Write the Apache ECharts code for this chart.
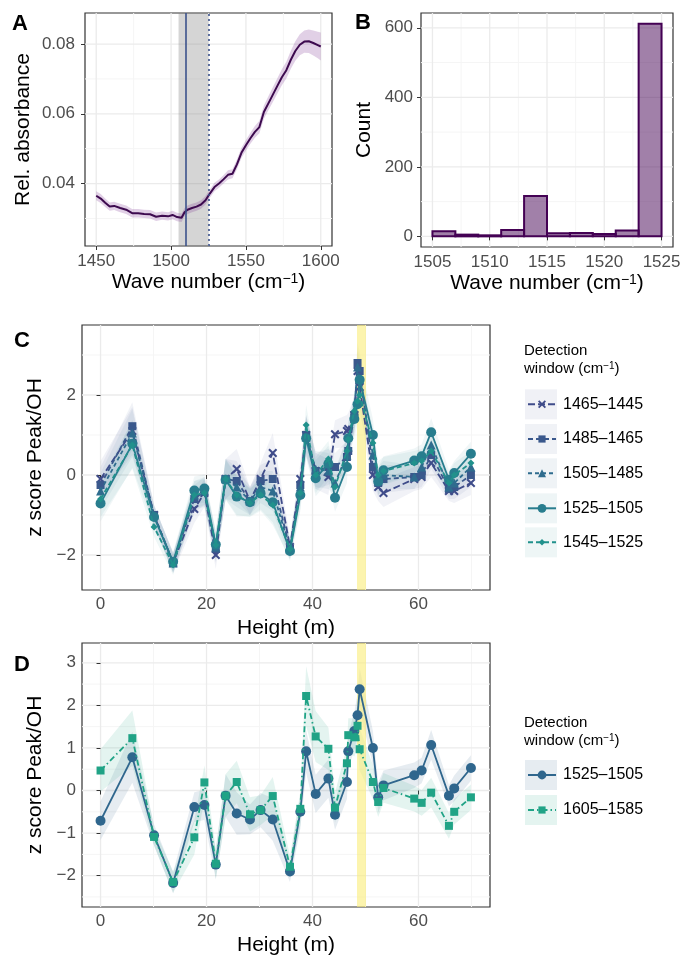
<!DOCTYPE html>
<html><head><meta charset="utf-8">
<script src="https://cdn.jsdelivr.net/npm/echarts@6/dist/echarts.min.js"></script>
<style>html,body{margin:0;padding:0;background:#fff}#c{width:684px;height:957px}</style>
</head><body><div id="c"></div>
<script>
const FONT = '"Liberation Sans", Arial, Helvetica, sans-serif';

// ---------- Panel A: spectrum ----------
const waveA = [1450,1453,1456,1459,1462,1466,1470,1474,1478,1482,1486,1490,1494,1498,1501,1504,1507,1509,1511,1514,1517,1520,1523,1526,1529,1532,1535,1538,1541,1544,1547,1550,1553,1556,1559,1562,1565,1568,1571,1574,1577,1580,1583,1586,1589,1592,1595,1598,1600];
const absA  = [0.0365,0.0357,0.0345,0.0334,0.0336,0.0330,0.0325,0.0315,0.0315,0.0313,0.0312,0.0305,0.0308,0.0306,0.0310,0.0304,0.0302,0.0318,0.0325,0.0330,0.0334,0.0340,0.0352,0.0372,0.0390,0.0400,0.0412,0.0425,0.0428,0.0455,0.0488,0.0510,0.0530,0.0548,0.0562,0.0605,0.0630,0.0655,0.0680,0.0705,0.0725,0.0755,0.0780,0.0798,0.0807,0.0808,0.0803,0.0797,0.0793];
const ribbonA = [0.0013,0.0013,0.0012,0.0012,0.0012,0.0012,0.0012,0.0012,0.0012,0.0012,0.0012,0.0012,0.0012,0.0012,0.0012,0.0012,0.0012,0.0012,0.0012,0.0012,0.0012,0.0012,0.0012,0.0012,0.0012,0.0012,0.0012,0.0013,0.0013,0.0014,0.0015,0.0015,0.0016,0.0017,0.0018,0.0019,0.0020,0.0021,0.0022,0.0023,0.0024,0.0026,0.0028,0.0030,0.0032,0.0034,0.0036,0.0038,0.0040];
const windowA = [1505, 1525];
const peakLineA = 1510;
const edgeLineA = 1525;
const ticksAx = [1450, 1500, 1550, 1600];
const ticksAy = [0.04, 0.06, 0.08];
const minorAx = [1475, 1525, 1575];
const minorAy = [0.03, 0.05, 0.07];

// ---------- Panel B: histogram ----------
const binEdgesB = [1505,1507,1509,1511,1513,1515,1517,1519,1521,1523,1525];
const countsB = [15, 5, 3, 18, 116, 9, 10, 7, 17, 612];
const ticksBx = [1505, 1510, 1515, 1520, 1525];
const ticksBy = [0, 200, 400, 600];
const minorBx = [1507.5, 1512.5, 1517.5, 1522.5];
const minorBy = [100, 300, 500];

// ---------- Panels C and D: z scores vs height ----------
const heights = [0,6,10.1,13.7,17.7,19.6,21.75,23.6,25.7,28.2,30.2,32.5,35.75,37.7,38.8,40.6,43,44.25,46.5,46.75,47.9,48.5,48.9,51.4,52.4,53.4,59.2,60.6,62.4,65.75,66.75,69.9];
const z1465 = [-0.1,1.1,-1.0,-2.2,-0.85,-0.45,-2.0,-0.1,0.15,-0.65,-0.1,0.55,-1.8,-0.1,1.0,0.1,-0.05,1.02,1.1,1.15,1.5,2.6,2.2,0.0,-0.3,-0.45,-0.1,-0.05,0.3,-0.4,-0.4,-0.2];
const z1485 = [-0.25,1.22,-1.0,-2.2,-0.6,-0.4,-1.85,-0.1,-0.15,-0.65,-0.15,-0.1,-1.85,-0.25,1.0,0.1,0.2,0.2,0.45,0.6,1.5,2.8,2.6,0.2,-0.2,-0.1,-0.05,0.0,0.5,-0.35,-0.3,0.0];
const z1505 = [-0.4,1.05,-1.0,-2.2,-0.5,-0.4,-1.8,-0.1,-0.3,-0.65,-0.3,-0.4,-1.85,-0.3,0.95,0.15,0.1,-0.2,0.5,0.7,1.6,2.7,2.4,0.5,-0.15,0.0,-0.05,0.2,0.75,-0.3,-0.2,0.2];
const z1525 = [-0.71,0.78,-1.05,-2.17,-0.39,-0.34,-1.74,-0.12,-0.54,-0.68,-0.46,-0.68,-1.9,-0.5,0.92,-0.08,0.28,-0.57,0.2,0.92,1.4,1.77,2.38,1.0,-0.16,0.12,0.36,0.47,1.07,-0.12,0.05,0.53];
const z1545 = [-0.6,0.75,-1.3,-2.25,-0.5,-0.45,-1.75,-0.1,-0.5,-0.7,-0.5,-0.75,-1.85,-0.45,1.25,0.0,0.4,-0.3,0.6,0.9,1.6,1.85,2.0,0.8,0.0,0.1,0.3,0.35,0.6,-0.2,0.0,0.3];
const z1605 = [0.47,1.23,-1.09,-2.15,-1.1,0.19,-1.72,-0.12,0.2,-0.56,-0.46,-0.13,-1.79,-0.43,2.22,1.27,0.98,-0.4,0.64,1.3,1.25,1.52,0.97,0.2,-0.27,0.06,-0.19,-0.29,-0.05,-0.83,-0.5,-0.16];
const ribbonCD = [0.45,0.6,0.25,0.25,0.35,0.35,0.35,0.5,0.5,0.35,0.4,0.5,0.25,0.4,0.5,0.45,0.45,0.35,0.4,0.4,0.45,0.5,0.5,0.4,0.35,0.35,0.3,0.3,0.35,0.25,0.3,0.3];
const ribbon1605 = [0.5,0.65,0.2,0.25,0.4,0.4,0.35,0.5,0.5,0.4,0.35,0.45,0.25,0.4,0.7,0.6,0.5,0.35,0.4,0.4,0.45,0.5,0.5,0.4,0.35,0.35,0.3,0.3,0.35,0.3,0.3,0.3];
const highlightHeight = [48.4, 50.1];
const ticksCDx = [0, 20, 40, 60];
const ticksCy = [-2, 0, 2];
const ticksDy = [-2, -1, 0, 1, 2, 3];
const minorCDx = [10, 30, 50, 70];
const minorCy = [-1, 1, 3];
const minorDy = [-2.5, -1.5, -0.5, 0.5, 1.5, 2.5];

const namesC = ['1465–1445','1485–1465','1505–1485','1525–1505','1545–1525'];
const namesD = ['1525–1505 ','1605–1585'];

// ---------- helpers ----------
function valAxis(gridIndex, min, max, ticks, fs, margin, name, nameGap, fmt) {
  return {
    type: 'value', gridIndex, min, max,
    axisLine: {show: false},
    axisTick: {show: true, length: 4, customValues: ticks, lineStyle: {color: '#333333', width: 1}},
    axisLabel: {color: '#4d4d4d', fontSize: fs, fontFamily: FONT, margin, customValues: ticks,
      formatter: fmt || (v => String(v))},
    splitLine: {show: false},
    name, nameLocation: 'middle', nameGap,
    nameTextStyle: {fontSize: 21, color: '#000', fontFamily: FONT,
      rich: {s: {fontSize: 14, verticalAlign: 'top', color: '#000', fontFamily: FONT}}}
  };
}
function gridLines(ai, xs, ys, xr, yr, stroke, lw, z) {
  const xm = (xr[0] + xr[1]) / 2, ym = (yr[0] + yr[1]) / 2;
  return {
    type: 'custom', xAxisIndex: ai, yAxisIndex: ai, silent: true, z: z,
    data: [[xm, ym]],
    renderItem(params, api) {
      const cs = params.coordSys, ch = [];
      xs.forEach(v => { const x = api.coord([v, ym])[0];
        ch.push({type: 'line', shape: {x1: x, y1: cs.y, x2: x, y2: cs.y + cs.height}, style: {stroke, lineWidth: lw}}); });
      ys.forEach(v => { const y = api.coord([xm, v])[1];
        ch.push({type: 'line', shape: {x1: cs.x, y1: y, x2: cs.x + cs.width, y2: y}, style: {stroke, lineWidth: lw}}); });
      return {type: 'group', children: ch};
    }
  };
}
function ribbon(ai, xs, ys, hw, fill, z) {
  return {
    type: 'custom', xAxisIndex: ai, yAxisIndex: ai, silent: true, z: z || 2,
    data: xs.map((x, i) => [x, ys[i]]),
    renderItem(params, api) {
      if (params.dataIndex !== 0) return null;
      const pts = [];
      for (let i = 0; i < xs.length; i++) pts.push(api.coord([xs[i], ys[i] + hw[i]]));
      for (let i = xs.length - 1; i >= 0; i--) pts.push(api.coord([xs[i], ys[i] - hw[i]]));
      return {type: 'polygon', shape: {points: pts}, style: {fill}};
    }
  };
}
function vband(ai, range, fill, z, yref) {
  return {
    type: 'custom', xAxisIndex: ai, yAxisIndex: ai, silent: true, z,
    data: [[range[0], yref]],
    renderItem(params, api) {
      const cs = params.coordSys;
      const x0 = api.coord([range[0], yref])[0], x1 = api.coord([range[1], yref])[0];
      return {type: 'rect', shape: {x: x0, y: cs.y, width: x1 - x0, height: cs.height}, style: {fill}};
    }
  };
}

const crossPath = 'path://M0,1.6 L1.6,0 L5,3.4 L8.4,0 L10,1.6 L6.6,5 L10,8.4 L8.4,10 L5,6.6 L1.6,10 L0,8.4 L3.4,5 Z';
const colC = ['#3f4c8a', '#3a588c', '#2f6c8e', '#287d8e', '#21918c'];
const symC = [crossPath, 'rect', 'triangle', 'circle', 'diamond'];
const symSizeC = [9, 8, 9, 10, 7];
const dashC = [[7,3], [5,3], [4,3], 'solid', [5,3]];
const dataC = [z1465, z1485, z1505, z1525, z1545];
const colD = ['#2f668d', '#20a386'];
const symD = ['circle', 'rect'];
const symSizeD = [10, 8];
const dashD = ['solid', [6,3,1.5,3]];
const dataD = [z1525, z1605];
const ribD = [ribbonCD, ribbon1605];

function rgba(hex, a) {
  const n = parseInt(hex.slice(1), 16);
  return `rgba(${n >> 16},${(n >> 8) & 255},${n & 255},${a})`;
}
const MAJ = '#ebebeb', MIN = '#f5f5f5';

const series = [];
// A
const xrA = [1442.5, 1607.5], yrA = [0.0221, 0.0889];
series.push(gridLines(0, minorAx, minorAy, xrA, yrA, MIN, 1, 0));
series.push(gridLines(0, ticksAx, ticksAy, xrA, yrA, MAJ, 1.3, 0));
series.push(vband(0, windowA, 'rgba(128,128,128,0.33)', 1, 0.05));
series.push(ribbon(0, waveA, absA, ribbonA, 'rgba(120,40,140,0.22)', 2));
series.push({
  type: 'line', xAxisIndex: 0, yAxisIndex: 0, z: 3, symbol: 'none', silent: true,
  data: waveA.map((x, i) => [x, absA[i]]),
  lineStyle: {color: '#3d0a4f', width: 2},
  markLine: {symbol: 'none', silent: true, label: {show: false}, animation: false,
    data: [
      {xAxis: peakLineA, lineStyle: {color: '#3b528b', width: 1.6, type: 'solid'}},
      {xAxis: edgeLineA, lineStyle: {color: '#3b528b', width: 1.6, type: [2, 3]}}
    ]}
});
// B
const xrB = [1504, 1526], yrB = [-30.6, 642.6];
series.push(gridLines(1, minorBx, minorBy, xrB, yrB, MIN, 1, 0));
series.push(gridLines(1, ticksBx, ticksBy, xrB, yrB, MAJ, 1.3, 0));
series.push({
  type: 'custom', xAxisIndex: 1, yAxisIndex: 1, z: 3, silent: true,
  data: countsB.map((c, i) => [binEdgesB[i], c, binEdgesB[i + 1]]),
  renderItem(params, api) {
    const p0 = api.coord([api.value(0), api.value(1)]);
    const p1 = api.coord([api.value(2), 0]);
    return {type: 'rect', shape: {x: p0[0], y: p0[1], width: p1[0] - p0[0], height: p1[1] - p0[1]},
      style: {fill: 'rgba(68,1,84,0.5)', stroke: '#440154', lineWidth: 2}};
  }
});
// C
const xrCD = [-3.5, 73.5], yrC = [-2.875, 3.75], yrD = [-2.736, 3.465];
series.push(gridLines(2, minorCDx, minorCy, xrCD, yrC, MIN, 1, 0));
series.push(gridLines(2, ticksCDx, ticksCy, xrCD, yrC, MAJ, 1.3, 0));
dataC.forEach((d, k) => series.push(ribbon(2, heights, d, ribbonCD, rgba(colC[k], 0.07), 1)));
series.push(vband(2, highlightHeight, 'rgba(250,236,120,0.6)', 2, 0));
dataC.forEach((d, k) => series.push({
  type: 'line', name: namesC[k], xAxisIndex: 2, yAxisIndex: 2, z: 5 + k,
  data: heights.map((h, i) => [h, d[i]]),
  symbol: symC[k], symbolSize: symSizeC[k], showAllSymbol: true,
  lineStyle: {color: colC[k], width: 1.8, type: dashC[k]},
  itemStyle: {color: colC[k]}
}));
// D
series.push(gridLines(3, minorCDx, minorDy, xrCD, yrD, MIN, 1, 0));
series.push(gridLines(3, ticksCDx, ticksDy, xrCD, yrD, MAJ, 1.3, 0));
dataD.forEach((d, k) => series.push(ribbon(3, heights, d, ribD[k], rgba(colD[k], 0.12), 1)));
series.push(vband(3, highlightHeight, 'rgba(250,236,120,0.6)', 2, 0));
dataD.forEach((d, k) => series.push({
  type: 'line', name: namesD[k], xAxisIndex: 3, yAxisIndex: 3, z: 5 + k,
  data: heights.map((h, i) => [h, d[i]]),
  symbol: symD[k], symbolSize: symSizeD[k], showAllSymbol: true,
  lineStyle: {color: colD[k], width: 1.8, type: dashD[k]},
  itemStyle: {color: colD[k]}
}));

// legends
const legendC_ih = [10, 9, 10, 11, 8];
const legendC_cy = [404.3, 439, 473.3, 508.3, 542.3];
const legendD_ih = [11, 9];
const legendD_cy = [775, 810];
const legends = [];
const keyRects = [];
function addLegend(name, ih, cy) {
  legends.push({
    data: [name], orient: 'vertical', left: 527, top: cy - 10, padding: 0,
    itemWidth: 28, itemHeight: ih, selectedMode: false,
    textStyle: {fontSize: 16, color: '#000', fontFamily: FONT, lineHeight: 20, padding: [0, 0, 0, 2]}
  });
}
namesC.forEach((n, k) => { addLegend(n, legendC_ih[k], legendC_cy[k]);
  keyRects.push({type: 'rect', shape: {x: 525, y: legendC_cy[k] - 15, width: 32, height: 30}, style: {fill: rgba(colC[k], 0.08)}, z: 0}); });
namesD.forEach((n, k) => { addLegend(n, legendD_ih[k], legendD_cy[k]);
  keyRects.push({type: 'rect', shape: {x: 525, y: legendD_cy[k] - 15, width: 32, height: 30}, style: {fill: rgba(colD[k], 0.12)}, z: 0}); });

function txt(x, y, text, font, extra) {
  return Object.assign({type: 'text', style: {x, y, text, font, fill: '#000', textAlign: 'left', textVerticalAlign: 'middle', verticalAlign: 'middle'}}, extra || {});
}
const graphics = keyRects.concat([
  txt(12, 24, 'A', 'bold 22px ' + FONT),
  txt(355, 23, 'B', 'bold 22px ' + FONT),
  txt(14, 341, 'C', 'bold 22px ' + FONT),
  txt(14, 665, 'D', 'bold 22px ' + FONT),
  txt(524, 351, 'Detection', '15px ' + FONT),
  {type: 'text', style: {x: 524, y: 369, text: 'window (cm{s|−1})', font: '15px ' + FONT, fill: '#000', verticalAlign: 'middle', textVerticalAlign: 'middle',
    rich: {s: {fontSize: 10, verticalAlign: 'top', fontFamily: FONT, fill: '#000'}}}},
  txt(524, 723, 'Detection', '15px ' + FONT),
  {type: 'text', style: {x: 524, y: 741, text: 'window (cm{s|−1})', font: '15px ' + FONT, fill: '#000', verticalAlign: 'middle', textVerticalAlign: 'middle',
    rich: {s: {fontSize: 10, verticalAlign: 'top', fontFamily: FONT, fill: '#000'}}}}
]);

const gridStyle = {show: true, backgroundColor: '#fff', borderColor: '#333333', borderWidth: 1.2, containLabel: false};
const negFmt = v => v < 0 ? '−' + Math.abs(v) : String(v);
const option = {
  animation: false,
  backgroundColor: '#fff',
  textStyle: {fontFamily: FONT},
  grid: [
    Object.assign({left: 85, top: 13, width: 247, height: 233}, gridStyle),
    Object.assign({left: 421, top: 13, width: 252, height: 234}, gridStyle),
    Object.assign({left: 82, top: 325, width: 408, height: 265}, gridStyle),
    Object.assign({left: 82, top: 643, width: 408, height: 267}, gridStyle)
  ],
  xAxis: [
    valAxis(0, xrA[0], xrA[1], ticksAx, 17, 7, 'Wave number (cm{s|−1})', 26),
    valAxis(1, xrB[0], xrB[1], ticksBx, 17, 7, 'Wave number (cm{s|−1})', 26),
    valAxis(2, xrCD[0], xrCD[1], ticksCDx, 17, 6, 'Height (m)', 28),
    valAxis(3, xrCD[0], xrCD[1], ticksCDx, 17, 6, 'Height (m)', 28)
  ],
  yAxis: [
    valAxis(0, yrA[0], yrA[1], ticksAy, 17, 10, 'Rel. absorbance', 51, v => v.toFixed(2)),
    valAxis(1, yrB[0], yrB[1], ticksBy, 17, 8, 'Count', 46),
    valAxis(2, yrC[0], yrC[1], ticksCy, 17, 6, 'z score Peak/OH', 31, negFmt),
    valAxis(3, yrD[0], yrD[1], ticksDy, 17, 6, 'z score Peak/OH', 31, negFmt)
  ],
  legend: legends,
  graphic: graphics,
  series
};
const chart = echarts.init(document.getElementById('c'), null, {renderer: 'canvas'});
chart.setOption(option);
</script></body></html>
